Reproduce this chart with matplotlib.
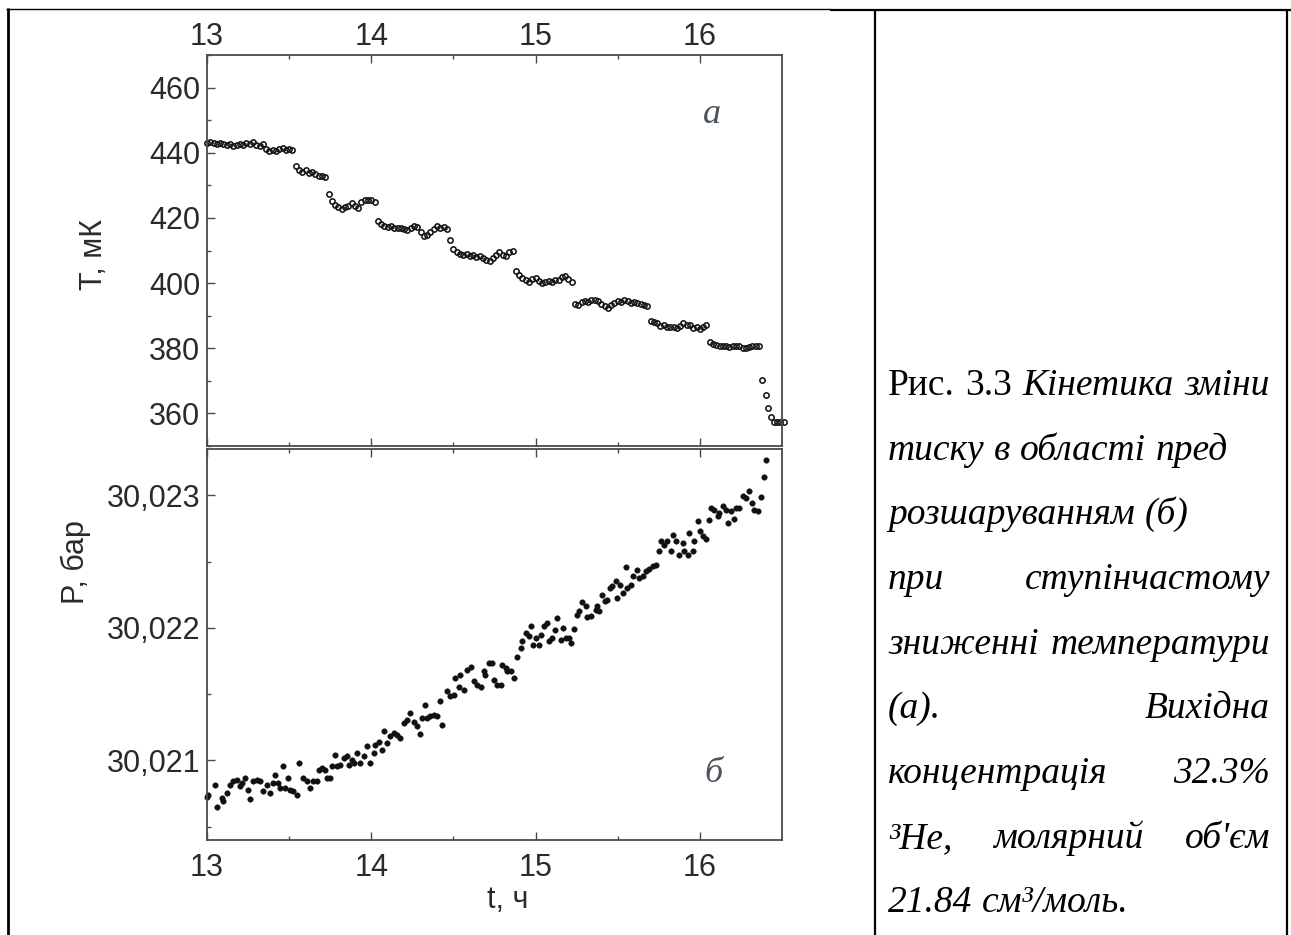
"""
Fig. 3.3: temperature steps (a) and pressure response (b) vs time, with caption cell.
"""

import matplotlib
matplotlib.use("Agg")
import matplotlib.pyplot as plt
from matplotlib.lines import Line2D

plt.rcParams["font.family"] = ["Liberation Sans", "DejaVu Sans"]

W, H = 1291, 935

# ---- panel (a): T, mK ----
t_temp = [
    13.00, 13.02, 13.04, 13.06, 13.08, 13.10, 13.12, 13.14, 13.16, 13.18,
    13.20, 13.22, 13.24, 13.26, 13.28, 13.30, 13.32, 13.34, 13.36, 13.38,
    13.40, 13.42, 13.44, 13.46, 13.48, 13.50, 13.52, 13.54, 13.56, 13.58,
    13.60, 13.62, 13.64, 13.66, 13.68, 13.70, 13.72, 13.74, 13.76, 13.78,
    13.80, 13.82, 13.84, 13.86, 13.88, 13.90, 13.92, 13.94, 13.96, 13.98,
    14.00, 14.02, 14.04, 14.06, 14.08, 14.10, 14.12, 14.14, 14.16, 14.18,
    14.20, 14.22, 14.24, 14.26, 14.28, 14.30, 14.32, 14.34, 14.36, 14.38,
    14.40, 14.42, 14.44, 14.46, 14.48, 14.50, 14.52, 14.54, 14.56, 14.58,
    14.60, 14.62, 14.64, 14.66, 14.68, 14.70, 14.72, 14.74, 14.76, 14.78,
    14.80, 14.82, 14.84, 14.86, 14.88, 14.90, 14.92, 14.94, 14.96, 14.98,
    15.00, 15.02, 15.04, 15.06, 15.08, 15.10, 15.12, 15.14, 15.16, 15.18,
    15.20, 15.22, 15.24, 15.26, 15.28, 15.30, 15.32, 15.34, 15.36, 15.38,
    15.40, 15.42, 15.44, 15.46, 15.48, 15.50, 15.52, 15.54, 15.56, 15.58,
    15.60, 15.62, 15.64, 15.66, 15.68, 15.70, 15.72, 15.74, 15.76, 15.78,
    15.80, 15.82, 15.84, 15.86, 15.88, 15.90, 15.92, 15.94, 15.96, 15.98,
    16.00, 16.02, 16.04, 16.06, 16.08, 16.10, 16.12, 16.14, 16.16, 16.18,
    16.20, 16.22, 16.24, 16.26, 16.28, 16.30, 16.32, 16.34, 16.36,
    16.38, 16.40, 16.415, 16.43, 16.45, 16.47, 16.49, 16.51,
]
temp = [
    443.0, 443.2, 443.0, 442.6, 443.0, 442.8, 442.5, 442.7, 442.0, 442.5,
    442.8, 442.4, 443.0, 442.6, 443.3, 442.5, 442.0, 442.6, 441.2, 440.6,
    440.8, 440.5, 441.0, 441.5, 440.8, 441.0, 440.8, 436.0, 434.8, 434.2,
    434.6, 433.8, 434.0, 433.6, 433.0, 432.8, 432.6, 427.2, 425.2, 424.0,
    423.2, 422.8, 423.4, 423.8, 424.6, 423.6, 423.0, 424.8, 425.6, 425.6,
    425.4, 425.0, 419.2, 418.2, 417.6, 417.2, 417.6, 416.8, 417.0, 416.8,
    416.6, 416.4, 416.8, 417.6, 417.2, 415.6, 414.6, 414.8, 415.6, 416.6,
    417.4, 417.0, 417.2, 416.6, 413.2, 410.6, 409.6, 409.0, 408.6, 408.8,
    408.4, 408.6, 408.0, 408.4, 407.6, 407.0, 406.8, 407.6, 408.6, 409.6,
    408.6, 408.2, 409.4, 409.8, 403.8, 402.6, 401.6, 400.8, 400.4, 401.2,
    401.6, 400.6, 400.0, 400.2, 400.6, 400.2, 400.8, 401.0, 401.8, 402.2,
    401.2, 400.4, 393.6, 393.4, 394.2, 394.6, 394.2, 394.8, 394.8, 394.4,
    393.6, 393.0, 392.4, 393.2, 394.0, 394.6, 394.2, 394.8, 394.4, 394.0,
    394.2, 393.8, 393.6, 393.4, 393.0, 388.4, 388.2, 387.6, 386.8, 387.2,
    386.6, 386.4, 386.6, 386.2, 386.8, 387.6, 387.2, 387.0, 386.2, 386.4,
    386.0, 386.6, 387.2, 381.8, 381.4, 381.0, 380.8, 380.6, 380.6, 380.4,
    380.8, 380.6, 380.8, 380.2, 380.0, 380.4, 380.8, 380.6, 380.6,
    370.2, 365.8, 361.8, 358.8, 357.5, 357.3, 357.3, 357.3,
]

# ---- panel (b): P, bar ----
t_pres = [
    13.000, 13.008, 13.049, 13.059, 13.089, 13.100, 13.120, 13.140, 13.160, 13.181,
    13.201, 13.211, 13.232, 13.252, 13.262, 13.283, 13.303, 13.323, 13.343, 13.364,
    13.384, 13.404, 13.415, 13.435, 13.445, 13.465, 13.476, 13.496, 13.506, 13.526,
    13.547, 13.563, 13.587, 13.608, 13.628, 13.648, 13.669, 13.679, 13.699, 13.720,
    13.730, 13.750, 13.760, 13.780, 13.791, 13.811, 13.831, 13.852, 13.862, 13.882,
    13.892, 13.913, 13.933, 13.953, 13.974, 13.994, 14.014, 14.024, 14.045, 14.065,
    14.075, 14.096, 14.116, 14.136, 14.157, 14.177, 14.197, 14.217, 14.238, 14.258,
    14.278, 14.299, 14.309, 14.329, 14.339, 14.360, 14.380, 14.400, 14.416, 14.431,
    14.461, 14.482, 14.502, 14.512, 14.532, 14.543, 14.563, 14.583, 14.604, 14.624,
    14.644, 14.665, 14.685, 14.695, 14.716, 14.736, 14.746, 14.767, 14.787, 14.797,
    14.817, 14.828, 14.848, 14.868, 14.885, 14.909, 14.919, 14.939, 14.960, 14.970,
    14.986, 15.000, 15.021, 15.031, 15.051, 15.072, 15.082, 15.102, 15.116, 15.132,
    15.153, 15.169, 15.183, 15.204, 15.218, 15.234, 15.254, 15.265, 15.285, 15.305,
    15.315, 15.336, 15.366, 15.376, 15.387, 15.407, 15.421, 15.437, 15.454, 15.468,
    15.488, 15.498, 15.515, 15.535, 15.553, 15.559, 15.580, 15.596, 15.616, 15.630,
    15.651, 15.671, 15.691, 15.712, 15.732, 15.752, 15.763, 15.783, 15.803, 15.824,
    15.834, 15.854, 15.874, 15.895, 15.905, 15.925, 15.935, 15.956, 15.966, 15.986,
    16.002, 16.017, 16.037, 16.057, 16.067, 16.088, 16.108, 16.118, 16.139, 16.159,
    16.169, 16.189, 16.206, 16.220, 16.240, 16.260, 16.281, 16.301, 16.315, 16.332,
    16.352, 16.372, 16.389, 16.403,
]
pres = [
    30.020728, 30.020741, 30.020816, 30.020648, 30.020716, 30.020691, 30.020753, 30.020816, 30.020842, 30.020854,
    30.020804, 30.020829, 30.020867, 30.020779, 30.020711, 30.020842, 30.020854, 30.020842, 30.020766, 30.020816,
    30.020753, 30.020829, 30.020892, 30.020829, 30.020791, 30.020955, 30.020791, 30.020867, 30.020779, 30.020766,
    30.020741, 30.020980, 30.020867, 30.020842, 30.020791, 30.020842, 30.020842, 30.020930, 30.020942, 30.020930,
    30.020867, 30.020867, 30.020955, 30.021038, 30.020955, 30.020967, 30.021018, 30.021030, 30.020967, 30.021005,
    30.020980, 30.021055, 30.020980, 30.021030, 30.021106, 30.020980, 30.021055, 30.021118, 30.021143, 30.021080,
    30.021219, 30.021131, 30.021181, 30.021206, 30.021194, 30.021168, 30.021282, 30.021307, 30.021357, 30.021294,
    30.021257, 30.021199, 30.021319, 30.021420, 30.021319, 30.021332, 30.021345, 30.021332, 30.021445, 30.021269,
    30.021521, 30.021483, 30.021496, 30.021621, 30.021558, 30.021647, 30.021533, 30.021684, 30.021709, 30.021596,
    30.021571, 30.021558, 30.021672, 30.021647, 30.021734, 30.021734, 30.021609, 30.021571, 30.021571, 30.021722,
    30.021697, 30.021672, 30.021672, 30.021621, 30.021777, 30.021848, 30.021898, 30.021961, 30.021936, 30.022011,
    30.021868, 30.021923, 30.021873, 30.021948, 30.022011, 30.022036, 30.021898, 30.021923, 30.021986, 30.022074,
    30.021911, 30.021999, 30.021923, 30.021923, 30.021885, 30.021994, 30.022099, 30.022125, 30.022195, 30.022162,
    30.022079, 30.022087, 30.022137, 30.022162, 30.022125, 30.022250, 30.022200, 30.022213, 30.022301, 30.022313,
    30.022351, 30.022225, 30.022326, 30.022263, 30.022457, 30.022301, 30.022326, 30.022389, 30.022439, 30.022376,
    30.022389, 30.022426, 30.022447, 30.022464, 30.022472, 30.022582, 30.022653, 30.022628, 30.022658, 30.022582,
    30.022703, 30.022658, 30.022552, 30.022640, 30.022577, 30.022547, 30.022716, 30.022582, 30.022653, 30.022804,
    30.022733, 30.022691, 30.022673, 30.022816, 30.022904, 30.022892, 30.022842, 30.022867, 30.022917, 30.022892,
    30.022791, 30.022884, 30.022824, 30.022904, 30.022904, 30.022992, 30.022980, 30.023030, 30.022942, 30.022892,
    30.022879, 30.022985, 30.023136, 30.023264,
]

x_major = [13, 14, 15, 16]
x_minor = [13.5, 14.5, 15.5]
t_major = [360, 380, 400, 420, 440, 460]
t_minor = [350, 370, 390, 410, 430, 450, 470]
p_major = [30.021, 30.022, 30.023]
p_labels = ["30,021", "30,022", "30,023"]
p_minor = [30.0205, 30.0215, 30.0225]

caption_lines = [
    ([("Рис.", "normal"), ("3.3", "normal"), ("Кінетика", "italic"), ("зміни", "italic")], True),
    ([("тиску", "italic"), ("в", "italic"), ("області", "italic"), ("пред", "italic")], False),
    ([("розшаруванням", "italic"), ("(б)", "italic")], False),
    ([("при", "italic"), ("ступінчастому", "italic")], True),
    ([("зниженні", "italic"), ("температури", "italic")], True),
    ([("(а).", "italic"), ("Вихідна", "italic")], True),
    ([("концентрація", "italic"), ("32.3%", "italic")], True),
    ([("³Не,", "italic"), ("молярний", "italic"), ("об'єм", "italic")], True),
    ([("21.84", "italic"), ("см³/моль.", "italic")], False),
]

SPINE = "#4a4a4a"
TEXT = "#2a2a2a"


def fx(px):
    return px / W


def fy(py):
    return 1 - py / H


def style_axes(ax):
    for s in ax.spines.values():
        s.set_color(SPINE)
        s.set_linewidth(1.3)
    ax.set_xlim(13, 16.5)
    ax.set_xticks(x_major)
    ax.set_xticks(x_minor, minor=True)
    ax.tick_params(which="both", direction="in", colors=SPINE, labelcolor=TEXT,
                   labelsize=22, right=False, top=True, bottom=True)
    ax.tick_params(which="major", length=5.5, width=1.0)
    ax.tick_params(which="minor", length=3.2, width=1.0)
    ax.tick_params(axis="y", pad=5)


fig = plt.figure(figsize=(W / 100, H / 100), dpi=100)
fig.patch.set_facecolor("white")

ax_t = fig.add_axes([fx(207), fy(446), fx(782) - fx(207), fy(55) - fy(446)])
ax_p = fig.add_axes([fx(207), fy(840), fx(782) - fx(207), fy(449) - fy(840)])

style_axes(ax_t)
ax_t.set_ylim(350, 470)
ax_t.set_yticks(t_major)
ax_t.set_yticks(t_minor, minor=True)
ax_t.tick_params(axis="x", labeltop=True, labelbottom=False, pad=2)
ax_t.plot(t_temp, temp, ls="none", marker="o", ms=3.8, mfc="none",
          mec="#151515", mew=1.15, clip_on=False)

style_axes(ax_p)
ax_p.set_ylim(30.0204, 30.02335)
ax_p.set_yticks(p_major, labels=p_labels)
ax_p.set_yticks(p_minor, minor=True)
ax_p.tick_params(axis="x", labeltop=False, labelbottom=True, pad=9)
ax_p.plot(t_pres, pres, ls="none", marker="o", ms=4.0, mfc="#111111",
          mec="#111111", mew=0.3, clip_on=False)

# axis labels
fig.text(fx(94), fy(255), "T, мК", rotation=90, ha="center", va="center", fontsize=22, color=TEXT)
fig.text(fx(76), fy(562), "P, бар", rotation=90, ha="center", va="center", fontsize=22, color=TEXT)
fig.text(fx(508), fy(900), "t, ч", ha="center", va="center", fontsize=22, color=TEXT)

# panel letters
fig.text(fx(712), fy(123), "а", ha="center", va="baseline", fontsize=26,
         family="Liberation Serif", style="italic", color="#4d535c")
fig.text(fx(713), fy(782), "б", ha="center", va="baseline", fontsize=26,
         family="Liberation Serif", style="italic", color="#4d535c")

# table borders
border = dict(color="black", solid_capstyle="butt")
fig.add_artist(Line2D([fx(6), fx(830)], [fy(9), fy(9)], lw=1.0, **border))
fig.add_artist(Line2D([fx(830), fx(1291)], [fy(10), fy(10)], lw=1.6, **border))
fig.add_artist(Line2D([fx(8), fx(8)], [fy(8), fy(935)], lw=2.0, **border))
fig.add_artist(Line2D([fx(875), fx(875)], [fy(9), fy(935)], lw=1.6, **border))
fig.add_artist(Line2D([fx(1287), fx(1287)], [fy(9), fy(935)], lw=1.6, **border))

# caption, laid out word by word so justified lines fill the cell
CAP_LEFT, CAP_RIGHT = 888, 1270
baselines = [395, 460, 524, 589, 654, 718, 783, 848, 912]
placed = []
for (words, justify), base in zip(caption_lines, baselines):
    texts = [fig.text(0, fy(base), w, fontsize=27, family="Liberation Serif",
                      style=st, va="baseline", ha="left", color="black")
             for w, st in words]
    placed.append((texts, base, justify))

fig.canvas.draw()
renderer = fig.canvas.get_renderer()
for texts, base, justify in placed:
    widths = [t.get_window_extent(renderer).width for t in texts]
    if justify and len(texts) > 1:
        gap = (CAP_RIGHT - CAP_LEFT - sum(widths)) / (len(texts) - 1)
    else:
        gap = 9.5
    x = CAP_LEFT
    for t, w in zip(texts, widths):
        t.set_position((fx(x), fy(base)))
        x += w + gap

fig.savefig("out.png", dpi=100)
